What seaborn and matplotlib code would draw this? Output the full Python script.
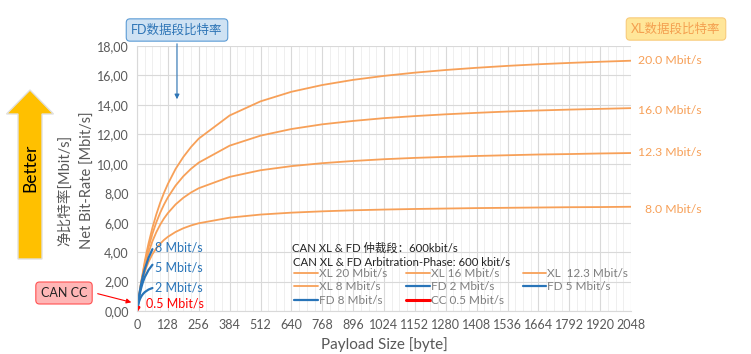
import numpy as np
import pandas as pd
import matplotlib
matplotlib.use("Agg")
import matplotlib.pyplot as plt
from matplotlib.patches import FancyArrow
from matplotlib.ticker import FuncFormatter, MultipleLocator
import seaborn as sns

# ---------------- data ----------------
xl_payload = [1, 8, 16, 32, 40, 48, 64, 80, 96, 112, 128, 160, 192, 224, 256, 384, 512, 640, 768,
              896, 1024, 1152, 1280, 1408, 1536, 1664, 1792, 1920, 2048]
xl20 = [0.13, 0.97, 1.85, 3.35, 4.01, 4.60, 5.66, 6.56, 7.35, 8.03, 8.63, 9.65, 10.46, 11.14, 11.71,
        13.28, 14.24, 14.89, 15.35, 15.70, 15.97, 16.19, 16.37, 16.52, 16.65, 16.76, 16.85, 16.93, 17.00]
xl16 = [0.13, 0.96, 1.80, 3.20, 3.80, 4.33, 5.25, 6.02, 6.67, 7.23, 7.72, 8.52, 9.15, 9.66, 10.08,
        11.23, 11.91, 12.36, 12.68, 12.91, 13.10, 13.24, 13.36, 13.46, 13.55, 13.62, 13.68, 13.73, 13.78]
xl123 = [0.13, 0.94, 1.74, 3.00, 3.52, 3.97, 4.74, 5.35, 5.86, 6.29, 6.65, 7.24, 7.69, 8.05, 8.34,
         9.11, 9.56, 9.84, 10.04, 10.19, 10.31, 10.40, 10.47, 10.53, 10.58, 10.63, 10.66, 10.70, 10.73]
xl8 = [0.13, 0.90, 1.60, 2.63, 3.01, 3.34, 3.86, 4.26, 4.57, 4.83, 5.04, 5.37, 5.62, 5.81, 5.96,
       6.34, 6.55, 6.68, 6.77, 6.84, 6.89, 6.93, 6.96, 6.99, 7.01, 7.03, 7.05, 7.06, 7.08]

fd_payload = [1, 8, 12, 16, 20, 24, 32, 48, 64]
fd8 = [0.14, 0.97, 1.37, 1.73, 2.05, 2.34, 2.84, 3.62, 4.20]
fd5 = [0.13, 0.87, 1.20, 1.48, 1.72, 1.94, 2.29, 2.79, 3.14]
fd2 = [0.11, 0.62, 0.80, 0.94, 1.05, 1.14, 1.28, 1.46, 1.56]

cc_payload = [1, 2, 4, 8]
cc05 = [0.065, 0.11, 0.17, 0.25]

xl_right_labels = ["20.0 Mbit/s", "16.0 Mbit/s", "12.3 Mbit/s", "8.0 Mbit/s"]
fd_labels = ["8 Mbit/s", "5 Mbit/s", "2 Mbit/s"]
cc_label = "0.5 Mbit/s"
x_ticks = list(range(0, 2049, 128))

ORANGE = "#F7A058"
BLUE = "#2874B8"
RED = "#FF0000"
GRAY = "#595959"

# ---------------- figure ----------------
sns.set_theme(style="white")
plt.rcParams["font.family"] = ["Lato", "Noto Sans CJK SC", "DejaVu Sans"]

fig = plt.figure(figsize=(7.51, 3.54), dpi=100)
ax = fig.add_axes([137 / 751, 1 - 311 / 354, (631 - 137) / 751, (311 - 46) / 354])

series = [
    ("XL 20 Mbit/s", xl_payload, xl20, ORANGE, 1.3),
    ("XL 16 Mbit/s", xl_payload, xl16, ORANGE, 1.3),
    ("XL  12.3 Mbit/s", xl_payload, xl123, ORANGE, 1.3),
    ("XL 8 Mbit/s", xl_payload, xl8, ORANGE, 1.3),
    ("FD 2 Mbit/s", fd_payload, fd2, BLUE, 1.6),
    ("FD 5 Mbit/s", fd_payload, fd5, BLUE, 1.6),
    ("FD 8 Mbit/s", fd_payload, fd8, BLUE, 1.6),
    ("CC 0.5 Mbit/s", cc_payload, cc05, RED, 2.2),
]
handles = {}
for name, xs, ys, col, lw in series:
    df = pd.DataFrame({"payload": xs, "rate": ys})
    sns.lineplot(data=df, x="payload", y="rate", color=col, linewidth=lw, ax=ax, label=name)
    handles[name] = ax.get_lines()[-1]

ax.set_xlim(0, 2048)
ax.set_ylim(0, 18)
ax.set_xticks(x_ticks)
ax.xaxis.set_minor_locator(MultipleLocator(32))
ax.yaxis.set_major_locator(MultipleLocator(2))
ax.yaxis.set_major_formatter(FuncFormatter(lambda v, p: f"{v:.2f}".replace(".", ",")))
ax.grid(which="major", color="#D9D9D9", linewidth=0.8)
ax.grid(which="minor", axis="x", color="#EDEDED", linewidth=0.6)
ax.set_axisbelow(True)
for s in ["top", "right"]:
    ax.spines[s].set_visible(False)
for s in ["left", "bottom"]:
    ax.spines[s].set_color("#D9D9D9")
    ax.spines[s].set_linewidth(0.8)
ax.tick_params(axis="both", which="both", length=0, colors=GRAY, labelsize=9, pad=6)
ax.set_xlabel("Payload Size [byte]", color=GRAY, fontsize=11, labelpad=4)
ax.set_ylabel("")

# legend
order = ["XL 20 Mbit/s", "XL 8 Mbit/s", "FD 8 Mbit/s", "XL 16 Mbit/s", "FD 2 Mbit/s",
         "CC 0.5 Mbit/s", "XL  12.3 Mbit/s", "FD 5 Mbit/s"]
leg = ax.legend([handles[k] for k in order], order, ncol=3, frameon=False,
                loc="upper left", bbox_to_anchor=((294 - 137) / 494, (311 - 268) / 265),
                fontsize=8.5, handlelength=2.0, handletextpad=0.1, columnspacing=1.6,
                labelspacing=0.2, borderaxespad=0, borderpad=0)
for t in leg.get_texts():
    t.set_color("#7F7F7F")

fig.text(292 / 751, 1 - 248 / 354, "CAN XL & FD 仲裁段：600kbit/s", fontsize=8.2, color="#222222", va="center")
fig.text(293 / 751, 1 - 262 / 354, "CAN XL & FD Arbitration-Phase: 600 kbit/s", fontsize=8.2, color="#222222", va="center")

# right labels (XL)
for lab, ypix in zip(xl_right_labels, [61, 110, 153, 209]):
    fig.text(702 / 751, 1 - ypix / 354, lab, color=ORANGE, fontsize=8.8, ha="right", va="center")

# FD labels
for lab, ypix in zip(fd_labels, [248, 267, 288]):
    fig.text(155 / 751, 1 - ypix / 354, lab, color=BLUE, fontsize=9, va="center")
fig.text(146 / 751, 1 - 304 / 354, cc_label, color=RED, fontsize=9, va="center")

# y labels
fig.text(65 / 751, 1 - 190 / 354, "净比特率[Mbit/s]", rotation=90, color=GRAY, fontsize=10.5, ha="center", va="center")
fig.text(88 / 751, 1 - 180 / 354, "Net Bit-Rate [Mbit/s]", rotation=90, color=GRAY, fontsize=10.5, ha="center", va="center")

# Better arrow
ov = fig.add_axes([0, 0, 1, 1], facecolor="none")
ov.set_xlim(0, 751)
ov.set_ylim(354, 0)
ov.axis("off")
arr = FancyArrow(30, 259, 0, -169, width=24, head_width=47, head_length=24,
                 length_includes_head=True, facecolor="#FFC000", edgecolor="#E0E0E0", linewidth=1)
ov.add_patch(arr)
ov.text(30, 168, "Better", rotation=90, ha="center", va="center", fontsize=12.5, color="black")

# FD annotation box
ov.text(177, 30, "FD数据段比特率", ha="center", va="center", fontsize=9, color="#2E75B6",
        bbox=dict(boxstyle="round,pad=0.4,rounding_size=0.3", facecolor="#CFE2F3", edgecolor="#5B9BD5", linewidth=0.8))
ov.annotate("", xy=(177, 102), xytext=(177, 41),
            arrowprops=dict(arrowstyle="-|>", color="#2E75B6", linewidth=0.8, mutation_scale=7))

# XL annotation box
ov.text(676, 29, "XL数据段比特率", ha="center", va="center", fontsize=9, color="#F4A050",
        bbox=dict(boxstyle="round,pad=0.4,rounding_size=0.3", facecolor="#FFE699", edgecolor="#F8CB7A", linewidth=0.8))

# CAN CC box
ov.text(64, 293, "CAN CC", ha="center", va="center", fontsize=9, color="#222222",
        bbox=dict(boxstyle="round,pad=0.4,rounding_size=0.3", facecolor="#FFB6B6", edgecolor="#FF5050", linewidth=0.8))
ov.annotate("", xy=(134, 303), xytext=(95, 293),
            arrowprops=dict(arrowstyle="-|>", color=RED, linewidth=0.8, mutation_scale=7))

fig.savefig("out.png", dpi=100)
